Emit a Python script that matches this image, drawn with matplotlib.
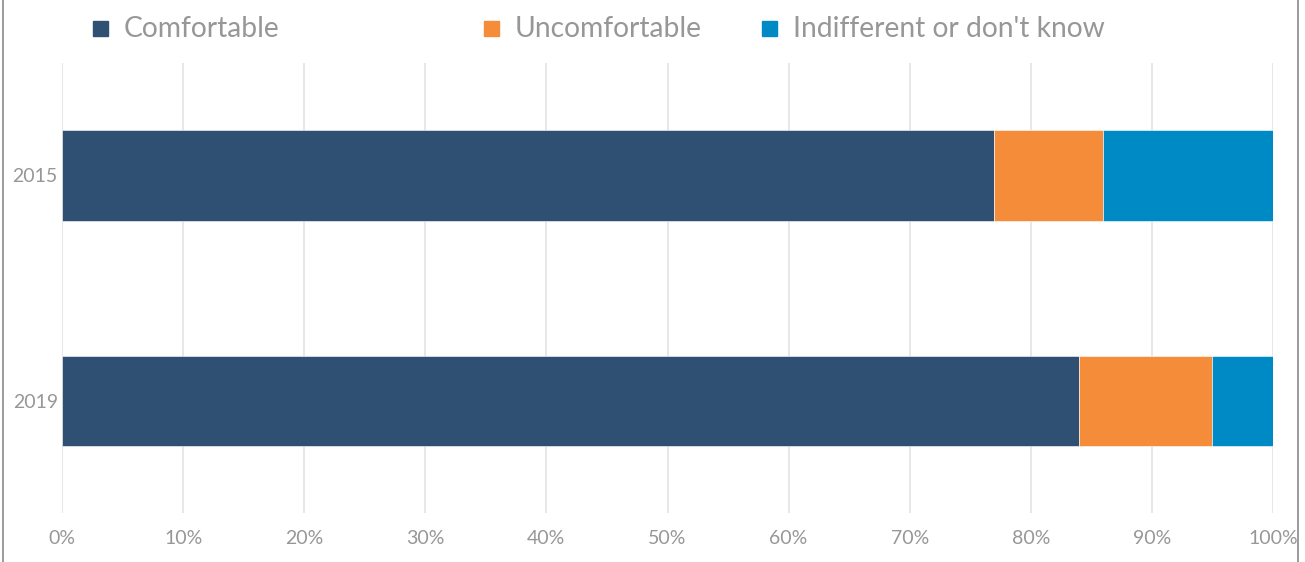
import matplotlib
matplotlib.use("Agg")
import matplotlib.pyplot as plt
from matplotlib.patches import Rectangle
from matplotlib.lines import Line2D

# data
YEARS = ["2019", "2015"]
COMFORTABLE = [84, 77]
UNCOMFORTABLE = [11, 9]
INDIFFERENT = [5, 14]
SERIES = ["Comfortable", "Uncomfortable", "Indifferent or don't know"]
COLORS = ["#2F5072", "#F58C3A", "#008AC5"]

plt.rcParams["font.family"] = ["Lato", "DejaVu Sans"]
W, H = 1305, 562
fig = plt.figure(figsize=(W / 100, H / 100), dpi=100)
ax = fig.add_axes([62 / W, 1 - 513 / H, (1273 - 62) / W, (513 - 63) / H])

y = list(range(len(YEARS)))
left = [0] * len(YEARS)
for vals, col in zip([COMFORTABLE, UNCOMFORTABLE, INDIFFERENT], COLORS):
    ax.barh(y, vals, left=left, height=0.4, color=col, edgecolor="white",
            linewidth=0.4, zorder=3)
    left = [a + b for a, b in zip(left, vals)]

ax.set_xlim(0, 100)
ax.set_ylim(-0.5, 1.5)
ax.set_xticks(range(0, 101, 10))
ax.set_xticklabels([f"{v}%" for v in range(0, 101, 10)])
ax.set_yticks(y)
ax.set_yticklabels(YEARS)
ax.grid(axis="x", color="#E3E3E3", linewidth=1.2, zorder=0)
for s in ax.spines.values():
    s.set_visible(False)
ax.tick_params(axis="both", length=0, labelsize=14, labelcolor="#979797")
ax.tick_params(axis="x", pad=12)
ax.tick_params(axis="y", pad=3)

# legend drawn by hand
leg_x = [93, 484, 762]
for name, col, x in zip(SERIES, COLORS, leg_x):
    fig.patches.append(Rectangle((x / W, 1 - 36 / H), 15 / W, 15 / H,
                                 transform=fig.transFigure, color=col))
    fig.text((x + 31) / W, 1 - 29 / H, name, fontsize=20.3, color="#979797",
             va="center", ha="left")

# side frame lines
fig.add_artist(Line2D([3 / W, 3 / W], [0, 1], color="#8A8A8A", linewidth=1.2))
fig.add_artist(Line2D([1298 / W, 1298 / W], [0, 1], color="#8A8A8A", linewidth=1.2))

fig.savefig("out.png", dpi=100)
